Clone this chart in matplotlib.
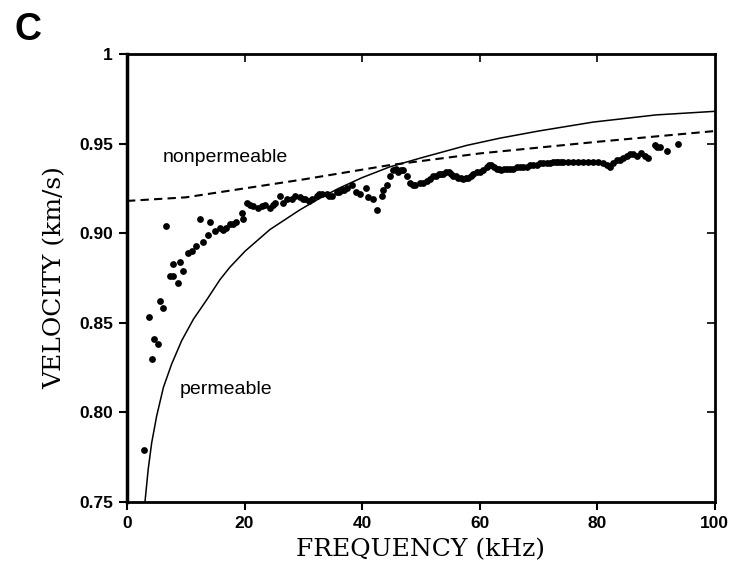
import numpy as np
from matplotlib import pyplot as plt

# measured phase velocity (dots), 12 per line in both lists
freq_data = [2.9, 3.7, 4.3, 4.65, 5.2, 5.7, 6.2, 6.6, 7.3, 7.8, 7.9, 8.6,
             9.0, 9.6, 10.4, 11.0, 11.7, 12.5, 12.9, 13.8, 14.1, 15.0, 15.8, 16.3,
             16.8, 17.5, 18.0, 18.5, 19.5, 19.8, 20.4, 21.0, 21.5, 22.3, 22.9, 23.5,
             24.3, 24.8, 25.2, 26.0, 26.6, 27.2, 28.0, 28.6, 29.4, 29.9, 30.3, 30.9,
             31.4, 32.3, 32.7, 33.1, 34.0, 34.4, 34.8, 35.7, 36.1, 36.5, 37.0, 37.4,
             38.2, 39.0, 39.6, 40.6, 41.0, 41.9, 42.6, 43.3, 43.6, 44.2, 44.7, 45.3,
             45.7, 46.1, 46.6, 47.0, 47.6, 48.1, 48.6, 49.0, 49.8, 50.4, 51.0, 51.6,
             52.1, 52.6, 53.0, 53.4, 53.8, 54.3, 54.7, 55.1, 55.5, 55.9, 56.3, 56.8,
             57.2, 57.6, 58.0, 58.5, 58.9, 59.5, 60.0, 60.6, 61.2, 61.6, 62.0, 62.5,
             62.9, 63.3, 63.7, 64.2, 64.6, 65.2, 65.7, 66.3, 66.8, 67.4, 68.0, 68.6,
             69.1, 69.7, 70.2, 70.8, 71.4, 72.0, 72.5, 73.0, 73.4, 73.8, 74.2, 75.0,
             75.9, 76.8, 77.6, 78.5, 79.3, 80.2, 81.0, 81.6, 82.1, 82.7, 83.3, 83.9,
             84.4, 85.0, 85.5, 86.1, 86.7, 87.5, 88.1, 88.7, 89.8, 90.2, 90.6, 91.8,
             93.8]
vel_data = [0.779, 0.853, 0.830, 0.841, 0.838, 0.862, 0.858, 0.904, 0.876, 0.876, 0.883, 0.872,
            0.884, 0.879, 0.889, 0.890, 0.893, 0.908, 0.895, 0.899, 0.906, 0.901, 0.903, 0.902,
            0.903, 0.905, 0.905, 0.906, 0.911, 0.908, 0.917, 0.916, 0.915, 0.914, 0.915, 0.916,
            0.914, 0.916, 0.917, 0.921, 0.917, 0.919, 0.919, 0.921, 0.920, 0.919, 0.919, 0.918,
            0.919, 0.921, 0.922, 0.922, 0.922, 0.921, 0.921, 0.923, 0.923, 0.924, 0.924, 0.925,
            0.927, 0.923, 0.922, 0.925, 0.920, 0.919, 0.913, 0.921, 0.924, 0.927, 0.932, 0.935,
            0.936, 0.934, 0.935, 0.935, 0.932, 0.928, 0.927, 0.927, 0.928, 0.928, 0.929, 0.930,
            0.932, 0.932, 0.933, 0.933, 0.933, 0.934, 0.934, 0.933, 0.932, 0.932, 0.931, 0.931,
            0.930, 0.931, 0.931, 0.932, 0.933, 0.934, 0.934, 0.935, 0.937, 0.938, 0.938, 0.937,
            0.936, 0.936, 0.935, 0.936, 0.936, 0.936, 0.936, 0.937, 0.937, 0.937, 0.937, 0.938,
            0.938, 0.938, 0.939, 0.939, 0.939, 0.939, 0.940, 0.940, 0.940, 0.940, 0.940, 0.940,
            0.940, 0.940, 0.940, 0.940, 0.940, 0.940, 0.939, 0.938, 0.937, 0.939, 0.941, 0.941,
            0.942, 0.943, 0.944, 0.944, 0.943, 0.945, 0.943, 0.942, 0.949, 0.948, 0.948, 0.946,
            0.950]

# model curve, permeable (solid)
freq_perm = [3.06, 3.6, 4.2, 5.05, 6.2, 7.6, 9.3, 11.3, 13.6, 15.8, 17.5, 20.1, 24.3,
             29.4, 32.8, 36.0, 40.0, 44.7, 50.0, 57.8, 63.4, 70.0, 79.3, 90.0, 100.0]
vel_perm = [0.750, 0.768, 0.783, 0.798, 0.814, 0.827, 0.840, 0.852, 0.863, 0.874,
            0.881, 0.890, 0.902, 0.913, 0.9195, 0.925, 0.931, 0.937, 0.942, 0.949,
            0.953, 0.957, 0.962, 0.966, 0.968]

# model curve, nonpermeable (dashed)
freq_nonperm = [0, 10, 20, 30, 44.7, 60, 80, 100]
vel_nonperm = [0.918, 0.920, 0.925, 0.930, 0.938, 0.9445, 0.951, 0.957]

xticks = [0, 20, 40, 60, 80, 100]
yticks = [0.75, 0.80, 0.85, 0.90, 0.95, 1.0]
ytick_labels = ["0.75", "0.80", "0.85", "0.90", "0.95", "1"]

fig = plt.figure(figsize=(7.4, 5.78), dpi=100)
ax = fig.add_axes([0.1716, 0.1315, 0.966 - 0.1716, 0.9066 - 0.1315])

ax.plot(freq_perm, vel_perm, color="black", lw=1.1)
ax.plot(freq_nonperm, vel_nonperm, color="black", lw=1.5, dashes=(4, 2.5))
ax.scatter(freq_data, vel_data, s=24, color="black", zorder=3, linewidths=0)

ax.set_xlim(0, 100)
ax.set_ylim(0.75, 1.0)
ax.set_xticks(xticks)
ax.set_yticks(yticks)
ax.set_yticklabels(ytick_labels)
for lab in ax.get_xticklabels() + ax.get_yticklabels():
    lab.set_fontweight("bold")
    lab.set_fontfamily("Liberation Sans")
    lab.set_fontsize(12.5)
ax.tick_params(axis="both", direction="out", length=6, width=1.5, pad=4)

# inward ticks on top and right
sec_x = ax.secondary_xaxis("top")
sec_x.set_xticks(xticks[1:-1])
sec_x.tick_params(direction="in", length=6, width=1.2, labeltop=False)
sec_y = ax.secondary_yaxis("right")
sec_y.set_yticks(yticks[1:-1])
sec_y.tick_params(direction="in", length=6, width=1.2, labelright=False)
sec_x.spines["top"].set_visible(False)
sec_y.spines["right"].set_visible(False)

for side in ["top", "right", "bottom"]:
    ax.spines[side].set_linewidth(2)
ax.spines["left"].set_linewidth(2.5)

ax.set_xlabel("FREQUENCY (kHz)", fontfamily="DejaVu Serif", fontsize=18, labelpad=5)
ax.set_ylabel("VELOCITY (km/s)", fontfamily="DejaVu Serif", fontsize=18, labelpad=9)

ax.text(16.7, 0.9425, "nonpermeable", fontfamily="Liberation Sans", fontsize=14,
        ha="center", va="center")
ax.text(16.8, 0.8125, "permeable", fontfamily="Liberation Sans", fontsize=14,
        ha="center", va="center")

fig.text(0.02, 0.98, "C", fontfamily="Liberation Sans", fontweight="bold",
         fontsize=27, ha="left", va="top")

fig.savefig("out.png", dpi=100)
